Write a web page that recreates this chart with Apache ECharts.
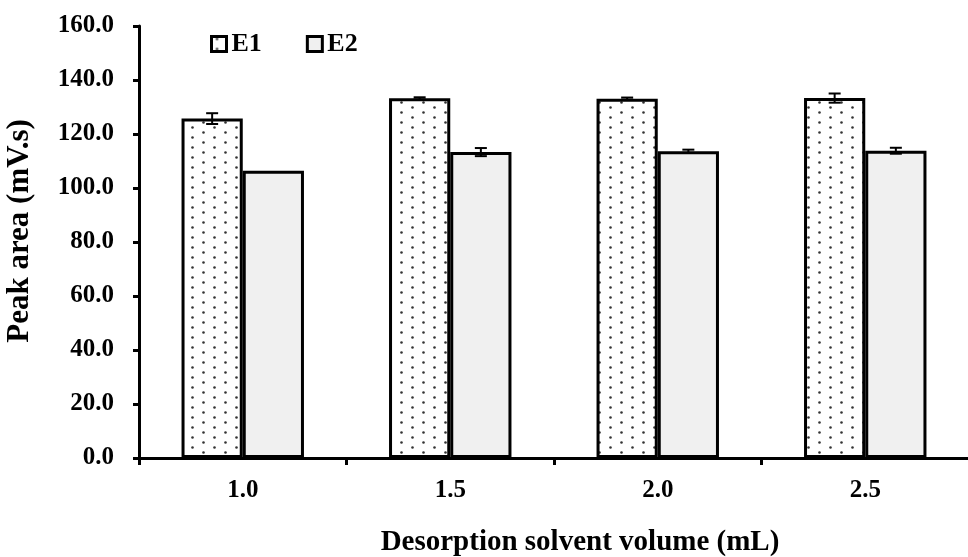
<!DOCTYPE html>
<html>
<head>
<meta charset="utf-8">
<script src="https://cdn.jsdelivr.net/npm/echarts@6/dist/echarts.min.js"></script>
<style>
  html, body { margin: 0; padding: 0; background: #fff; }
  #chart { width: 968px; height: 557px; }
</style>
</head>
<body>
<div id="chart"></div>
<script>
// Desorption solvent volume (mL)
const categories = ['1.0', '1.5', '2.0', '2.5'];
// Peak area (mV.s), mean values
const e1Values = [125.7, 133.2, 133.1, 133.3];
const e2Values = [106.4, 113.3, 113.6, 113.8];
// standard deviations
const e1Errors = [2.0, 0.4, 0.4, 1.7];
const e2Errors = [0.0, 1.5, 0.6, 1.1];
// y-axis ticks
const yMin = 0, yMax = 160, yStep = 20;

const FONT = '"Liberation Serif", "Times New Roman", serif';
const CAT_GAP = 0.41;

// dotted fill used for E1
function dotPattern() {
  const c = document.createElement('canvas');
  c.width = 22; c.height = 10;
  const g = c.getContext('2d');
  g.fillStyle = '#ffffff';
  g.fillRect(0, 0, 22, 10);
  g.fillStyle = '#333333';
  [[5.5, 2.5], [16.5, 7.5]].forEach(function (p) {
    g.beginPath();
    g.arc(p[0], p[1], 1.3, 0, Math.PI * 2);
    g.fill();
  });
  return c;
}

function errorSeries(values, errors, side) {
  return {
    type: 'custom',
    silent: true,
    z: 10,
    data: values.map(function (v, i) { return [i, v, errors[i]]; }),
    renderItem: function (params, api) {
      const idx = api.value(0);
      const v = api.value(1);
      const e = api.value(2);
      if (!e) return null;
      const band = api.size([1, 0])[0];
      const barW = band * (1 - CAT_GAP) / 2;
      const top = api.coord([idx, v + e]);
      const bot = api.coord([idx, v - e]);
      const x = top[0] + side * barW / 2;
      const cap = 6;
      const style = { stroke: '#000', lineWidth: 2 };
      return {
        type: 'group',
        children: [
          { type: 'line', shape: { x1: x, y1: top[1], x2: x, y2: bot[1] }, style: style },
          { type: 'line', shape: { x1: x - cap, y1: top[1], x2: x + cap, y2: top[1] }, style: style },
          { type: 'line', shape: { x1: x - cap, y1: bot[1], x2: x + cap, y2: bot[1] }, style: style }
        ]
      };
    }
  };
}

const chart = echarts.init(document.getElementById('chart'));
chart.setOption({
  animation: false,
  backgroundColor: '#ffffff',
  grid: { left: 139, right: -1, top: 26, bottom: 99, containLabel: false, outerBoundsMode: 'none' },
  legend: {
    left: 205,
    top: 26,
    itemGap: 44,
    itemWidth: 15,
    itemHeight: 15,
    icon: 'rect',
    itemStyle: { borderColor: '#000', borderWidth: 3 },
    textStyle: { fontFamily: FONT, fontWeight: 'bold', fontSize: 26, color: '#000' },
    data: ['E1', 'E2']
  },
  xAxis: {
    type: 'category',
    data: categories,
    name: 'Desorption solvent volume (mL)',
    nameLocation: 'middle',
    nameGap: 70,
    nameTextStyle: { fontFamily: FONT, fontWeight: 'bold', fontSize: 29, color: '#000', padding: [0, 0, 0, 52] },
    axisLine: { lineStyle: { color: '#000', width: 3 } },
    axisTick: { show: true, length: 7, lineStyle: { color: '#000', width: 3 } },
    axisLabel: { fontFamily: FONT, fontWeight: 'bold', fontSize: 25, color: '#000', margin: 20 }
  },
  yAxis: {
    type: 'value',
    min: yMin,
    max: yMax,
    interval: yStep,
    name: 'Peak area (mV.s)',
    nameLocation: 'middle',
    nameGap: 104,
    nameTextStyle: { fontFamily: FONT, fontWeight: 'bold', fontSize: 31, color: '#000', padding: [0, 0, 0, 22] },
    axisLine: { show: true, lineStyle: { color: '#000', width: 3 } },
    axisTick: { show: true, length: 6, lineStyle: { color: '#000', width: 3 } },
    axisLabel: {
      fontFamily: FONT, fontWeight: 'bold', fontSize: 25, color: '#000', margin: 25,
      formatter: function (v) { return v.toFixed(1); }
    },
    splitLine: { show: false }
  },
  series: [
    {
      name: 'E1',
      type: 'bar',
      data: e1Values,
      barGap: '0%',
      barCategoryGap: (CAT_GAP * 100) + '%',
      itemStyle: {
        color: { image: dotPattern(), repeat: 'repeat' },
        borderColor: '#000',
        borderWidth: 3
      }
    },
    {
      name: 'E2',
      type: 'bar',
      data: e2Values,
      barGap: '0%',
      barCategoryGap: (CAT_GAP * 100) + '%',
      itemStyle: {
        color: '#f0f0f0',
        borderColor: '#000',
        borderWidth: 3
      }
    },
    errorSeries(e1Values, e1Errors, -1),
    errorSeries(e2Values, e2Errors, 1)
  ]
});
</script>
</body>
</html>
